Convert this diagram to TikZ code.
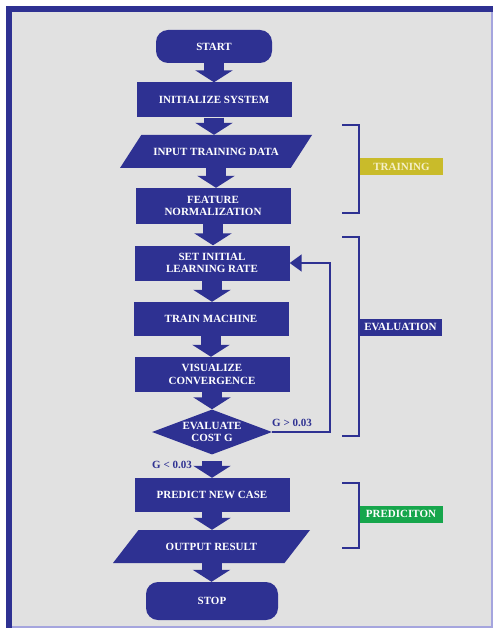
\documentclass[tikz,border=0pt]{standalone}
\usepackage{fontspec}
\setmainfont{Liberation Serif}
\usetikzlibrary{shapes.geometric,arrows.meta}
\definecolor{flowblue}{RGB}{46,49,146}
\definecolor{panelgray}{RGB}{225,225,225}
\definecolor{framelav}{RGB}{165,165,222}
\definecolor{trainyellow}{RGB}{201,187,42}
\definecolor{traintext}{RGB}{245,240,200}
\definecolor{predgreen}{RGB}{22,166,76}
\tikzset{
  box/.style={fill=flowblue,text=white,font=\fontsize{11}{12.5}\selectfont\bfseries,align=center,inner sep=0pt,minimum width=155pt,minimum height=35pt},
  term/.style={box,rounded corners=12pt},
  iobox/.style={box,trapezium,trapezium stretches body,trapezium left angle=55,trapezium right angle=125,inner xsep=0pt,inner ysep=11.5pt,minimum height=33pt},
  test/.style={box,diamond,aspect=2.6,minimum width=120pt,minimum height=45pt},
  flow/.style={draw=flowblue,line width=20pt,-{Triangle[width=37pt,length=12pt]}},
  loop/.style={draw=flowblue,line width=1.6pt,-{Triangle[width=17pt,length=12pt]}},
  bracket/.style={draw=flowblue,line width=1.6pt},
  tag/.style={font=\fontsize{11}{12}\selectfont\bfseries,minimum width=83pt,minimum height=17pt,inner sep=0pt},
  cond/.style={text=flowblue,font=\fontsize{11}{12}\selectfont\bfseries,inner sep=0pt}
}
\begin{document}
\begin{tikzpicture}[x=1pt,y=-1pt]
\useasboundingbox (0,0) rectangle (493,628);
\fill[white] (0,0) rectangle (493,628);
\fill[panelgray] (6,6) rectangle (493,628);
\fill[flowblue] (6,6) rectangle (493,12);
\fill[flowblue] (6,6) rectangle (12,628);
\fill[framelav] (490.5,12) rectangle (493,628);
\fill[framelav] (12,625.5) rectangle (490.5,628);

\node[term,minimum width=116pt,minimum height=33pt] (start) at (214,46.5) {START};
\node[box] (init) at (214,100) {INITIALIZE SYSTEM};
\node[iobox,minimum width=192pt] (input) at (216,151.5) {INPUT TRAINING DATA};
\node[box,minimum height=36pt] (norm) at (213,206) {FEATURE\\NORMALIZATION};
\node[box] (setlr) at (212,263) {SET INITIAL\\LEARNING RATE};
\node[box,minimum height=34pt] (train) at (211,319) {TRAIN MACHINE};
\node[box] (visual) at (212,374.5) {VISUALIZE\\CONVERGENCE};
\node[test] (evalg) at (212,432) {EVALUATE\\COST G};
\node[box,minimum height=34pt] (predict) at (212,495) {PREDICT NEW CASE};
\node[iobox,trapezium left angle=50,trapezium right angle=130,minimum width=197pt] (output) at (211.5,546.5) {OUTPUT RESULT};
\node[term,minimum width=132pt,minimum height=38pt] (stop) at (212,601) {STOP};

\foreach \a/\b in {start/init,init/input,input/norm,norm/setlr,setlr/train,train/visual,visual/evalg,predict/output,output/stop}
  \draw[flow] (\a.south) -- (\a.south |- \b.north);
\draw[flow] ([yshift=-6pt]evalg.south) -- (evalg.south |- predict.north);

\coordinate (loopc) at (330,432);
\draw[loop] (evalg.east) -- (loopc) |- (setlr.east);
\node[cond] (gt) at (292,423) {G > 0.03};
\node[cond] (lt) at (172,465) {G < 0.03};

\draw[bracket] (342,125) -- (359,125) -- (359,213) -- (342,213);
\node[tag,fill=trainyellow,text=traintext] (lbltrain) at (401.5,166.5) {TRAINING};
\draw[bracket] (342,237) -- (359,237) -- (359,436) -- (342,436);
\node[tag,fill=flowblue,text=white] (lbleval) at (400.5,327) {EVALUATION};
\draw[bracket] (342,483) -- (359,483) -- (359,548) -- (342,548);
\node[tag,fill=predgreen,text=white] (lblpred) at (401,514) {PREDICITON};
\end{tikzpicture}
\end{document}
